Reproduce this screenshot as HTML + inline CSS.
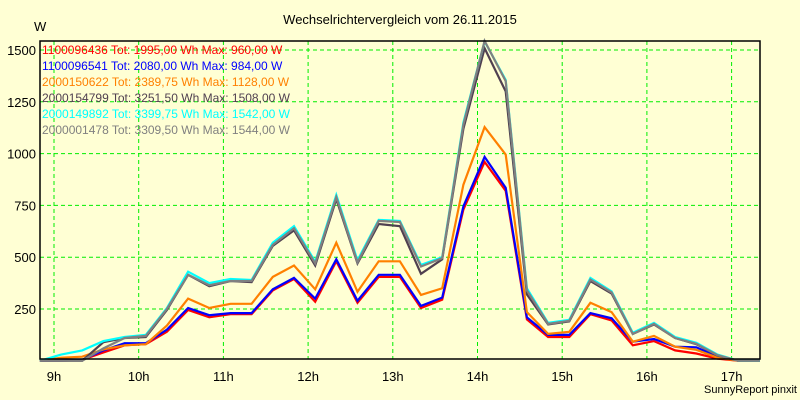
<!DOCTYPE html>
<html><head><meta charset="utf-8"><style>
html,body{margin:0;padding:0;background:#ffffd4;}
svg{display:block;font-family:"Liberation Sans",Arial,sans-serif;}
</style></head><body>
<svg id="chart" width="800" height="400" viewBox="0 0 800 400">
<rect x="0" y="0" width="800" height="400" fill="#ffffd4"/>
<text x="400" y="24" text-anchor="middle" font-size="13" fill="#000">Wechselrichtervergleich vom 26.11.2015</text>
<text x="34" y="31" font-size="13" fill="#000">W</text>
<text x="797" y="393" text-anchor="end" font-size="11" fill="#000">SunnyReport pinxit</text>
<g id="grid"></g>
<g id="ticks"></g>
<g id="series"></g>
<path d="M40,41 L40,359 L760,359 L760,41 Z" fill="none" stroke="#000" stroke-width="1.5"/>
<g id="legend"></g>
</svg>
<script>
const yTicks = [250, 500, 750, 1000, 1250, 1500];
const xTickLabels = ["9h","10h","11h","12h","13h","14h","15h","16h","17h"];
const xTickHours = [9,10,11,12,13,14,15,16,17];
// samples every 15 min starting 8:50
const startHour = 8 + 50/60;
const stepHour = 0.25;
const names = ["1100096436","1100096541","2000150622","2000154799","2000149892","2000001478"];
const legendText = [
 "1100096436 Tot: 1995,00 Wh Max: 960,00 W",
 "1100096541 Tot: 2080,00 Wh Max: 984,00 W",
 "2000150622 Tot: 2389,75 Wh Max: 1128,00 W",
 "2000154799 Tot: 3251,50 Wh Max: 1508,00 W",
 "2000149892 Tot: 3399,75 Wh Max: 1542,00 W",
 "2000001478 Tot: 3309,50 Wh Max: 1544,00 W"];
const colors = ["#ff0000","#0000ff","#ff8000","#504050","#00ffff","#808080"];
const sRed = [0,0,5,40,75,80,140,245,210,225,225,340,395,285,480,280,405,405,255,295,730,960,820,200,115,115,225,195,75,95,50,35,10,0,0];
const sBlue = [0,0,5,50,85,85,150,255,220,230,230,345,400,300,490,290,415,415,265,305,745,984,835,210,125,125,230,205,92,105,68,65,20,0,0];
const sOrange = [0,15,20,55,75,80,170,300,255,275,275,405,460,345,570,333,480,480,318,350,850,1128,995,235,130,140,280,235,92,120,68,53,15,0,0];
const sDark = [0,0,0,90,110,115,245,415,360,385,380,555,630,460,780,470,660,650,420,490,1120,1508,1300,320,175,190,385,325,130,175,110,80,25,0,0];
const sCyan = [0,30,50,95,115,125,255,430,375,395,390,570,650,478,800,485,680,675,463,500,1150,1542,1355,350,183,198,400,335,135,183,115,87,30,0,0];
const sGray = [0,0,0,60,110,120,250,415,365,385,385,560,640,470,790,475,675,670,455,495,1140,1544,1350,340,178,193,392,330,130,178,110,82,27,0,0];
const seriesList = [sRed,sBlue,sOrange,sDark,sCyan,sGray];

const NS = "http://www.w3.org/2000/svg";
function xScale(h){ return 54 + (h - 9) * 84.7; }
function yScale(v){ return 360.8 - v * (51.8/250); }
function mk(tag, attrs, parent){ const e=document.createElementNS(NS,tag); for(const k in attrs) e.setAttribute(k,attrs[k]); parent.appendChild(e); return e; }

const grid=document.getElementById('grid'), ticks=document.getElementById('ticks'), ser=document.getElementById('series'), leg=document.getElementById('legend');
yTicks.forEach(v=>{
  const y=yScale(v);
  const l=mk('line',{x1:40,x2:760,y1:y,y2:y,stroke:'#00ee00','stroke-width':1,'stroke-dasharray':'4,3'},grid);
  
  
  const t=mk('text',{x:36,y:y+5,'text-anchor':'end','font-size':13,fill:'#000'},ticks);
  t.textContent=v;
  
  
});
xTickHours.forEach((h,i)=>{
  const x=xScale(h);
  const l=mk('line',{x1:x,x2:x,y1:41,y2:359,stroke:'#00ee00','stroke-width':1,'stroke-dasharray':'4,3'},grid);
  
  
  const t=mk('text',{x:x,y:381,'text-anchor':'middle','font-size':13,fill:'#000'},ticks);
  t.textContent=xTickLabels[i];
  
  
});
seriesList.forEach((s,k)=>{
  const pts=s.map((v,i)=>xScale(startHour+i*stepHour).toFixed(1)+','+yScale(v).toFixed(1)).join(' ');
  const p=mk('polyline',{points:pts,fill:'none',stroke:colors[k],'stroke-width':2.2,'stroke-linejoin':'miter'},ser);
  
  
});
legendText.forEach((txt,k)=>{
  const t=mk('text',{x:42,y:54+k*16,'font-size':12,fill:colors[k]},leg);
  t.textContent=txt;
  
  
});
</script>
</body></html>
